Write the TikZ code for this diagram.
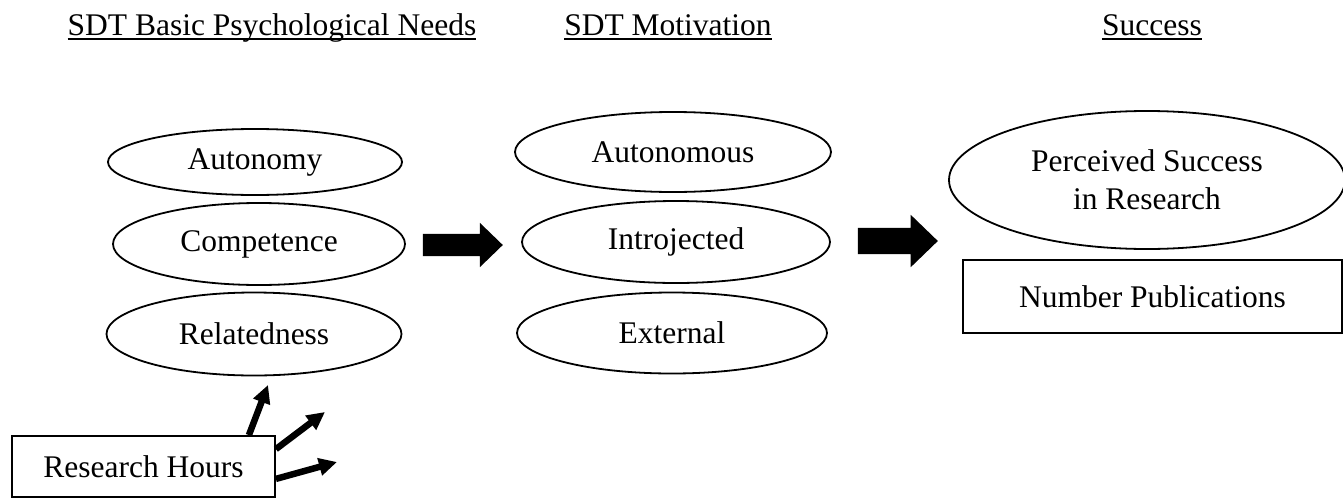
\documentclass[tikz,border=0pt]{standalone}
\usepackage{fontspec}
\setmainfont{Liberation Serif}
\usepackage{tikz}
\usetikzlibrary{arrows.meta,calc,positioning,shapes.geometric,shapes.arrows}
\tikzset{
  heading/.style={
    inner sep=0pt,
    anchor=base,
    font=\fontsize{31.5}{38}\selectfont
  },
  uline/.style={
    line width=2.4pt
  },
  need/.style={
    ellipse,
    draw,
    line width=1.8pt,
    inner sep=0pt,
    align=center,
    font=\fontsize{31.5}{38}\selectfont
  },
  fact/.style={
    rectangle,
    draw,
    line width=1.8pt,
    inner sep=0pt,
    align=center,
    font=\fontsize{31.5}{38}\selectfont
  },
  bigarrow/.style={
    single arrow,
    fill=black,
    inner xsep=0pt,
    minimum height=80pt,
    single arrow tip angle=88
  },
  arrow/.style={
    -{Triangle[length=18pt,width=17pt]},
    line width=6.5pt
  }
}

\begin{document}
\begin{tikzpicture}[x=1pt,y=-1pt]
\useasboundingbox (0,0) rectangle (1343,498);
% column titles
\node[heading] (h1) at (272,35) {SDT Basic Psychological Needs};
\node[heading] (h2) at (668,35) {SDT Motivation};
\node[heading] (h3) at (1152,35) {Success};
\foreach \h in {h1,h2,h3}
  \draw[uline] ([yshift=-4pt]\h.base west) -- ([yshift=-4pt]\h.base east);
% basic needs
\node[need,minimum width=294pt,minimum height=66pt] (aut) at (255,162) {Autonomy};
\node[need,minimum width=292pt,minimum height=82pt] (comp) at (259,244) {Competence};
\node[need,minimum width=295pt,minimum height=83pt] (rel) at (254,334) {Relatedness};
% motivation
\node[need,minimum width=316pt,minimum height=80pt] (auto) at (673,152) {Autonomous};
\node[need,minimum width=308pt,minimum height=82pt] (intro) at (676,242) {Introjected};
\node[need,minimum width=310pt,minimum height=81pt] (ext) at (672,333) {External};
% success
\node[need,minimum width=396pt,minimum height=138pt] (perc) at (1147,180) {Perceived Success\\in Research};
\node[fact,minimum width=379pt,minimum height=73pt] (pub) at (1152.5,296.5) {Number Publications};
% research hours
\node[fact,minimum width=263pt,minimum height=61pt] (hours) at (143.5,466.5) {Research Hours};
% block arrows
\node[bigarrow,inner ysep=11pt,single arrow head extend=11pt] (ar1) at (457,245) {};
\node[bigarrow,inner ysep=13pt,single arrow head extend=13pt] (ar2) at (891,241) {};
% small arrows
\coordinate (t1) at (268,385);
\coordinate (t2) at (325,412);
\coordinate (t3) at (337,462);
\draw[arrow] ([xshift=-27pt]hours.north east) -- (t1);
\draw[arrow] ([yshift=-14pt]hours.north east) -- (t2);
\draw[arrow] ([yshift=19pt]hours.south east) -- (t3);
\end{tikzpicture}
\end{document}
